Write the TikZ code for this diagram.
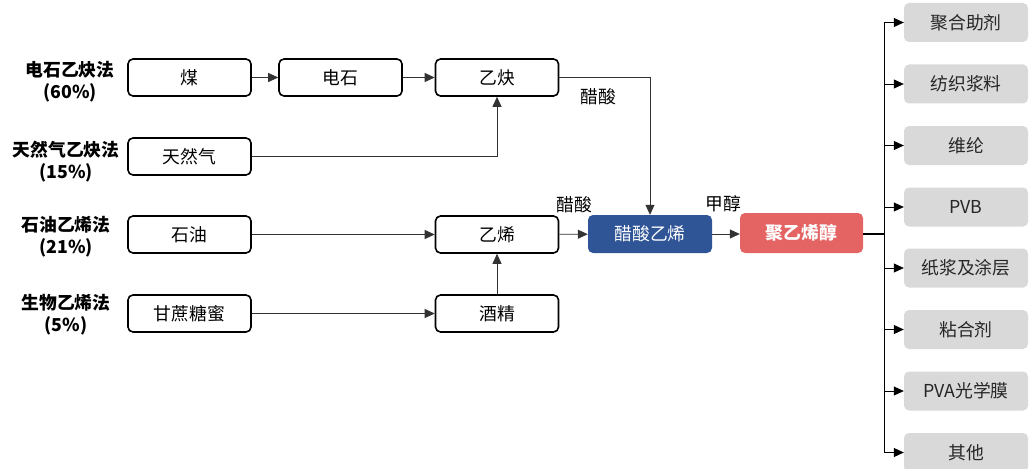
\documentclass[tikz,border=0pt]{standalone}
\usepackage{fontspec}
\setmainfont{Noto Sans CJK SC}
\usetikzlibrary{arrows.meta}
\definecolor{vablue}{HTML}{2F5597}
\definecolor{pvared}{HTML}{E46464}
\definecolor{usegray}{HTML}{D9D9D9}
\definecolor{linegray}{HTML}{333333}
\begin{document}
\begin{tikzpicture}[x=1pt,y=-1pt,
  font=\fontsize{17.8pt}{20pt}\selectfont,
  proc/.style={draw=black,line width=1.6pt,rounded corners=5pt,minimum width=123pt,minimum height=37pt,inner sep=0pt},
  vabox/.style={fill=vablue,text=white,rounded corners=5pt,minimum width=124pt,minimum height=38pt,inner sep=0pt},
  pvabox/.style={fill=pvared,text=white,rounded corners=5pt,minimum width=123pt,minimum height=40pt,inner sep=0pt,font=\fontsize{17.8pt}{20pt}\selectfont\bfseries},
  usebox/.style={fill=usegray,text=black!85,rounded corners=5pt,minimum width=124pt,minimum height=39pt,inner sep=0pt},
  method/.style={align=center,font=\fontsize{17.8pt}{22pt}\selectfont\bfseries},
  lbl/.style={inner sep=0pt},
  conn/.style={draw=linegray,line width=0.8pt},
  arr/.style={conn,-{Triangle[length=10pt,width=9pt]}},
]
\useasboundingbox (0,0) rectangle (1032,468);
% method labels
\node[method] (m1) at (70,82) {电石乙炔法\\(60\%)};
\node[method] (m2) at (66,162) {天然气乙炔法\\(15\%)};
\node[method] (m3) at (66,237) {石油乙烯法\\(21\%)};
\node[method] (m4) at (66,315) {生物乙烯法\\(5\%)};
% process boxes
\node[proc] (coal) at (189.5,77.5) {煤};
\node[proc] (carbide) at (340.5,77.5) {电石};
\node[proc] (acetylene) at (497,77.5) {乙炔};
\node[proc] (gas) at (189.5,156.5) {天然气};
\node[proc] (oil) at (189.5,234.5) {石油};
\node[proc] (cane) at (189.5,313.5) {甘蔗糖蜜};
\node[proc] (ethylene) at (497,234.5) {乙烯};
\node[proc] (alcohol) at (497,313.5) {酒精};
\node[vabox] (va) at (650,234) {醋酸乙烯};
\node[pvabox] (pva) at (801.5,233) {聚乙烯醇};
% labels on connectors
\node[lbl] (acid1) at (598,97) {醋酸};
\node[lbl] (acid2) at (574,205) {醋酸};
\node[lbl] (meoh) at (723,204) {甲醇};
% connectors
\draw[arr] (coal) -- (carbide);
\draw[arr] (carbide) -- (acetylene);
\draw[arr] (gas.east) -| (acetylene.south);
\draw[arr] (acetylene.east) -| (va.north);
\draw[arr] (oil) -- (ethylene);
\draw[arr] (cane) -- (alcohol);
\draw[arr] (alcohol) -- (ethylene);
\draw[arr] (ethylene) -- (va);
\draw[arr] (va.east) -- (pva.west |- va.east);
% uses
\node[usebox] (u1) at (966,22.5) {聚合助剂};
\node[usebox] (u2) at (966,84) {纺织浆料};
\node[usebox] (u3) at (966,145.5) {维纶};
\node[usebox] (u4) at (966,207) {PVB};
\node[usebox] (u5) at (966,268) {纸浆及涂层};
\node[usebox] (u6) at (966,329.5) {粘合剂};
\node[usebox] (u7) at (966,391) {PVA光学膜};
\node[usebox] (u8) at (966,452.5) {其他};
\coordinate (trunk) at (884,234);
\draw[conn,draw=black,line width=1.2pt] (pva.east |- trunk) -- (trunk);
\draw[conn,draw=black,line width=1pt] (trunk |- u1.west) -- (trunk |- u8.west);
\foreach \u in {u1,u2,u3,u4,u5,u6,u7,u8}{
  \draw[arr,draw=black] (trunk |- \u.west) -- (\u.west);
}
\end{tikzpicture}
\end{document}
